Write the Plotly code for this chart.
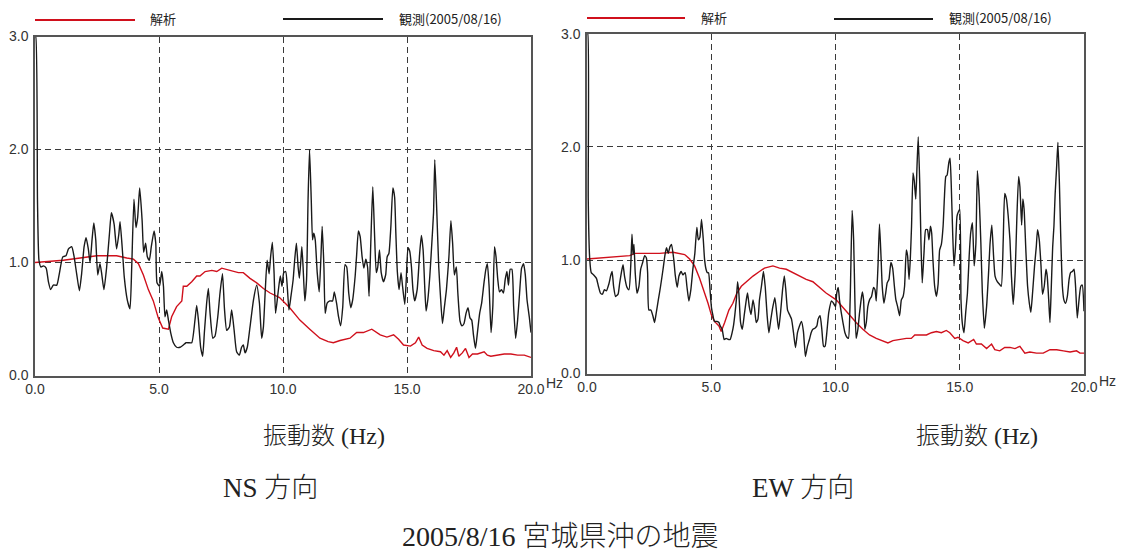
import plotly.graph_objects as go

# ---------------- data (Hz, amplification) ----------------
ns_obs_hz = [0.0, 0.03, 0.10, 0.16, 0.24, 0.34, 0.45, 0.54, 0.63, 0.74, 0.88, 0.98, 1.12, 1.25, 1.35, 1.48, 1.57, 1.68, 1.79, 1.88,
             1.98, 2.06, 2.15, 2.22, 2.30, 2.37, 2.45, 2.53, 2.62, 2.69, 2.78, 2.89, 3.00, 3.08, 3.19, 3.29, 3.38, 3.43, 3.52, 3.60,
             3.72, 3.83, 3.90, 3.99, 4.07, 4.14, 4.22, 4.32, 4.38, 4.46, 4.53, 4.61, 4.69, 4.80, 4.87, 4.92, 5.02, 5.11, 5.18, 5.24,
             5.31, 5.38, 5.47, 5.58, 5.71, 5.85, 5.98, 6.09, 6.18, 6.32, 6.45, 6.52, 6.59, 6.68, 6.76, 6.83, 6.92, 6.99, 7.06, 7.17,
             7.26, 7.37, 7.46, 7.56, 7.64, 7.73, 7.84, 7.93, 8.03, 8.13, 8.24, 8.33, 8.40, 8.47, 8.56, 8.67, 8.81, 8.94, 9.05, 9.14,
             9.21, 9.28, 9.36, 9.44, 9.50, 9.57, 9.64, 9.70, 9.80, 9.89, 9.96, 10.03, 10.11, 10.18, 10.24, 10.32, 10.41, 10.47, 10.54, 10.61,
             10.66, 10.72, 10.76, 10.81, 10.88, 10.95, 11.01, 11.07, 11.14, 11.19, 11.24, 11.30, 11.38, 11.46, 11.53, 11.58, 11.65, 11.70, 11.78, 11.89,
             12.00, 12.07, 12.16, 12.24, 12.32, 12.41, 12.50, 12.57, 12.65, 12.73, 12.81, 12.91, 12.97, 13.04, 13.11, 13.19, 13.26, 13.34, 13.41, 13.47,
             13.54, 13.62, 13.69, 13.76, 13.82, 13.89, 13.96, 14.05, 14.14, 14.20, 14.27, 14.35, 14.43, 14.50, 14.55, 14.61, 14.68, 14.76, 14.82, 14.91,
             14.97, 15.04, 15.11, 15.18, 15.24, 15.31, 15.41, 15.51, 15.58, 15.65, 15.72, 15.77, 15.84, 15.92, 15.99, 16.07, 16.12, 16.20, 16.28, 16.35,
             16.43, 16.51, 16.59, 16.69, 16.77, 16.84, 16.91, 16.99, 17.05, 17.14, 17.22, 17.30, 17.38, 17.46, 17.54, 17.61, 17.68, 17.76, 17.84, 17.93,
             18.01, 18.11, 18.18, 18.24, 18.31, 18.39, 18.46, 18.53, 18.59, 18.66, 18.73, 18.81, 18.89, 18.96, 19.03, 19.09, 19.16, 19.23, 19.30, 19.38,
             19.46, 19.54, 19.62, 19.70, 19.77, 19.84, 19.93, 20.0]
ns_obs_val = [3.0, 3.0, 1.55, 1.02, 0.96, 0.97, 0.95, 0.83, 0.76, 0.80, 0.80, 0.90, 1.05, 1.06, 1.12, 1.14, 1.06, 0.90, 0.75, 0.90,
              1.14, 1.22, 1.12, 1.00, 1.20, 1.35, 1.20, 0.89, 0.99, 0.90, 0.76, 0.96, 1.25, 1.44, 1.34, 1.12, 1.25, 1.36, 1.12, 0.87,
              0.67, 0.59, 0.96, 1.56, 1.31, 1.40, 1.66, 1.37, 1.09, 1.17, 1.05, 1.02, 1.14, 1.28, 1.17, 0.82, 0.79, 0.92, 0.79, 0.52,
              0.58, 0.49, 0.38, 0.29, 0.25, 0.25, 0.27, 0.29, 0.29, 0.29, 0.49, 0.62, 0.49, 0.25, 0.17, 0.38, 0.64, 0.77, 0.55, 0.33,
              0.35, 0.52, 0.73, 0.90, 0.59, 0.40, 0.43, 0.58, 0.40, 0.21, 0.18, 0.25, 0.27, 0.20, 0.25, 0.43, 0.67, 0.80, 0.64, 0.33,
              0.43, 0.73, 1.02, 0.90, 1.05, 1.18, 0.91, 0.55, 0.73, 0.88, 0.79, 0.91, 0.92, 0.76, 0.58, 0.70, 0.85, 1.02, 1.17, 0.96,
              0.86, 1.02, 1.14, 0.96, 0.66, 0.85, 1.55, 2.00, 1.55, 1.20, 1.26, 1.20, 0.91, 0.74, 1.05, 1.32, 0.96, 0.55, 0.64, 0.66,
              0.66, 0.74, 0.64, 0.52, 0.44, 0.61, 0.98, 0.96, 0.73, 0.60, 0.67, 0.88, 1.07, 1.28, 1.23, 1.05, 0.95, 1.03, 0.96, 0.70,
              1.17, 1.67, 1.26, 0.91, 0.96, 1.11, 0.91, 0.83, 0.89, 1.05, 1.08, 1.32, 1.66, 1.58, 1.26, 0.92, 0.76, 0.91, 0.79, 0.63,
              0.85, 1.13, 1.10, 0.96, 0.76, 0.66, 0.76, 1.08, 1.24, 1.11, 0.76, 0.57, 0.67, 0.88, 1.13, 1.44, 1.91, 1.46, 0.96, 0.70,
              0.46, 0.61, 0.76, 1.05, 1.37, 1.17, 0.89, 0.96, 0.73, 0.48, 0.44, 0.46, 0.55, 0.60, 0.51, 0.49, 0.36, 0.24, 0.38, 0.55,
              0.64, 0.83, 0.94, 0.99, 0.79, 0.38, 0.61, 1.14, 1.05, 0.85, 0.74, 0.76, 0.73, 0.85, 0.92, 0.80, 0.94, 0.94, 0.61, 0.33,
              0.49, 0.73, 0.95, 0.99, 0.89, 0.67, 0.52, 0.38]

ns_ana_hz = [0.0, 0.61, 1.14, 1.82, 2.49, 2.89, 3.29, 3.70, 3.97, 4.17, 4.37, 4.57, 4.77, 4.97, 5.15, 5.38, 5.51, 5.71, 5.92, 5.98,
             6.12, 6.32, 6.52, 6.65, 6.86, 7.13, 7.33, 7.53, 7.73, 8.00, 8.20, 8.40, 8.67, 8.94, 9.21, 9.48, 9.86, 10.27, 10.68, 11.08,
             11.49, 11.82, 12.03, 12.30, 12.70, 12.97, 13.24, 13.58, 13.92, 14.19, 14.46, 14.66, 14.86, 15.14, 15.34, 15.47, 15.61, 15.81, 16.08, 16.35,
             16.49, 16.62, 16.76, 16.89, 17.00, 17.09, 17.23, 17.36, 17.50, 17.64, 17.84, 18.11, 18.24, 18.38, 18.65, 18.92, 19.19, 19.46, 19.73, 20.0]
ns_ana_val = [1.00, 1.01, 1.02, 1.04, 1.06, 1.06, 1.06, 1.04, 1.03, 0.99, 0.89, 0.76, 0.66, 0.51, 0.42, 0.41, 0.52, 0.61, 0.66, 0.79,
              0.79, 0.83, 0.88, 0.88, 0.92, 0.93, 0.92, 0.95, 0.94, 0.92, 0.91, 0.91, 0.86, 0.82, 0.77, 0.73, 0.69, 0.60, 0.49, 0.41,
              0.33, 0.30, 0.29, 0.31, 0.33, 0.38, 0.38, 0.41, 0.36, 0.34, 0.36, 0.32, 0.27, 0.26, 0.29, 0.34, 0.27, 0.24, 0.22, 0.21,
              0.18, 0.22, 0.16, 0.20, 0.25, 0.17, 0.20, 0.24, 0.16, 0.19, 0.19, 0.21, 0.18, 0.17, 0.18, 0.19, 0.19, 0.18, 0.18, 0.16]

ew_obs_hz = [0.0, 0.03, 0.05, 0.11, 0.17, 0.27, 0.38, 0.46, 0.54, 0.62, 0.70, 0.78, 0.88, 0.95, 1.01, 1.07, 1.15, 1.25, 1.31, 1.39,
             1.45, 1.51, 1.61, 1.69, 1.76, 1.81, 1.85, 1.89, 1.94, 2.01, 2.09, 2.16, 2.24, 2.32, 2.39, 2.44, 2.49, 2.57, 2.65, 2.72,
             2.79, 2.87, 2.96, 3.06, 3.14, 3.20, 3.27, 3.34, 3.40, 3.49, 3.55, 3.63, 3.70, 3.79, 3.86, 3.95, 4.02, 4.10, 4.18, 4.26,
             4.34, 4.42, 4.48, 4.54, 4.61, 4.68, 4.73, 4.79, 4.84, 4.89, 4.96, 5.01, 5.07, 5.13, 5.23, 5.31, 5.36, 5.44, 5.52, 5.60,
             5.70, 5.76, 5.84, 5.90, 5.95, 6.01, 6.06, 6.11, 6.18, 6.25, 6.33, 6.41, 6.46, 6.53, 6.60, 6.68, 6.74, 6.81, 6.88, 6.94,
             7.02, 7.10, 7.17, 7.25, 7.32, 7.40, 7.48, 7.56, 7.63, 7.71, 7.79, 7.87, 7.94, 8.00, 8.07, 8.15, 8.23, 8.31, 8.39, 8.47,
             8.55, 8.63, 8.71, 8.79, 8.87, 8.95, 9.02, 9.09, 9.17, 9.25, 9.30, 9.38, 9.45, 9.52, 9.58, 9.65, 9.73, 9.84, 9.92, 10.00,
             10.05, 10.11, 10.16, 10.23, 10.30, 10.38, 10.46, 10.52, 10.59, 10.67, 10.73, 10.78, 10.83, 10.90, 10.97, 11.03, 11.08, 11.13, 11.18, 11.24,
             11.30, 11.37, 11.45, 11.53, 11.59, 11.64, 11.71, 11.77, 11.83, 11.88, 11.95, 12.02, 12.08, 12.15, 12.23, 12.30, 12.37, 12.43, 12.50, 12.58,
             12.65, 12.72, 12.78, 12.85, 12.90, 12.96, 13.01, 13.06, 13.12, 13.17, 13.23, 13.28, 13.33, 13.39, 13.44, 13.49, 13.56, 13.63, 13.70, 13.76,
             13.82, 13.87, 13.92, 13.99, 14.06, 14.13, 14.19, 14.26, 14.33, 14.38, 14.44, 14.49, 14.56, 14.61, 14.66, 14.72, 14.77, 14.83, 14.89, 14.95,
             15.00, 15.05, 15.11, 15.17, 15.24, 15.31, 15.38, 15.44, 15.51, 15.58, 15.65, 15.71, 15.78, 15.85, 15.91, 15.99, 16.08, 16.16, 16.22, 16.29,
             16.36, 16.42, 16.51, 16.59, 16.67, 16.75, 16.81, 16.88, 16.95, 17.02, 17.08, 17.15, 17.23, 17.30, 17.37, 17.42, 17.49, 17.54, 17.59, 17.66,
             17.73, 17.80, 17.86, 17.93, 18.01, 18.08, 18.13, 18.20, 18.27, 18.33, 18.40, 18.47, 18.52, 18.58, 18.63, 18.68, 18.74, 18.79, 18.84, 18.90,
             18.95, 19.01, 19.06, 19.13, 19.19, 19.26, 19.33, 19.40, 19.46, 19.53, 19.60, 19.66, 19.73, 19.80, 19.87, 19.93, 20.0]
ew_obs_val = [3.0, 3.0, 1.54, 1.01, 0.89, 0.87, 0.84, 0.77, 0.71, 0.70, 0.74, 0.73, 0.79, 0.86, 0.90, 0.77, 0.68, 0.70, 0.79, 0.90,
              0.96, 0.86, 0.76, 0.74, 0.95, 1.23, 1.05, 1.14, 0.89, 0.71, 0.77, 0.92, 0.98, 1.04, 1.02, 0.89, 0.56, 0.56, 0.51, 0.45,
              0.54, 0.65, 0.77, 0.92, 1.05, 1.11, 1.06, 1.12, 1.14, 1.01, 0.87, 0.76, 0.86, 0.90, 0.87, 0.89, 0.77, 0.64, 0.74, 0.92,
              1.06, 1.29, 1.18, 1.20, 1.36, 1.18, 1.01, 0.92, 0.89, 0.89, 0.71, 0.58, 0.51, 0.46, 0.46, 0.45, 0.42, 0.39, 0.30, 0.31,
              0.30, 0.30, 0.36, 0.43, 0.52, 0.65, 0.81, 0.71, 0.45, 0.39, 0.52, 0.65, 0.71, 0.59, 0.52, 0.65, 0.58, 0.45, 0.48, 0.65,
              0.77, 0.90, 0.77, 0.51, 0.36, 0.48, 0.59, 0.67, 0.54, 0.39, 0.54, 0.74, 0.86, 0.74, 0.56, 0.52, 0.48, 0.36, 0.23, 0.36,
              0.42, 0.46, 0.37, 0.15, 0.24, 0.30, 0.36, 0.39, 0.40, 0.42, 0.48, 0.51, 0.39, 0.24, 0.24, 0.36, 0.54, 0.64, 0.62, 0.59,
              0.71, 0.76, 0.65, 0.54, 0.45, 0.36, 0.32, 0.31, 0.65, 1.44, 1.18, 0.65, 0.31, 0.39, 0.54, 0.65, 0.72, 0.65, 0.39, 0.45,
              0.59, 0.65, 0.68, 0.76, 0.74, 0.64, 0.95, 1.32, 1.04, 0.77, 0.62, 0.71, 0.80, 0.83, 0.98, 0.93, 0.77, 0.65, 0.59, 0.51,
              0.65, 0.68, 0.77, 1.09, 1.04, 0.83, 1.01, 1.30, 1.77, 1.70, 1.54, 1.83, 2.09, 1.68, 1.15, 0.80, 1.06, 1.27, 1.27, 1.18,
              1.30, 1.24, 1.01, 0.77, 0.68, 0.79, 1.09, 1.14, 1.30, 1.54, 1.74, 1.75, 1.86, 1.90, 1.65, 1.21, 0.95, 1.12, 1.39, 1.43,
              1.45, 0.65, 0.43, 0.36, 0.54, 0.71, 1.04, 1.24, 1.33, 0.95, 1.15, 1.79, 1.56, 1.15, 0.71, 0.40, 0.59, 0.89, 1.15, 1.31,
              1.04, 0.86, 0.81, 0.79, 0.77, 1.18, 1.59, 1.54, 1.39, 1.18, 0.86, 0.61, 0.89, 1.39, 1.74, 1.65, 1.31, 1.54, 1.45, 1.09,
              0.77, 0.62, 0.54, 0.71, 0.95, 1.12, 1.27, 1.18, 0.95, 0.70, 0.77, 0.92, 0.86, 0.65, 0.45, 0.74, 1.12, 1.30, 1.59, 1.83,
              2.04, 1.68, 1.24, 0.77, 0.65, 0.62, 0.68, 0.83, 0.89, 0.90, 0.92, 0.77, 0.49, 0.65, 0.77, 0.78, 0.55]

ew_ana_hz = [0.0, 0.51, 1.05, 1.72, 1.92, 2.39, 2.92, 3.46, 3.73, 3.93, 4.13, 4.33, 4.53, 4.69, 4.87, 5.00, 5.13, 5.31, 5.40, 5.54,
             5.71, 5.87, 6.03, 6.21, 6.41, 6.68, 6.94, 7.14, 7.48, 7.75, 8.02, 8.28, 8.55, 8.82, 9.09, 9.36, 9.62, 10.03, 10.30, 10.56,
             10.83, 11.10, 11.37, 11.64, 11.91, 12.11, 12.31, 12.58, 12.85, 13.05, 13.19, 13.39, 13.66, 13.86, 14.06, 14.26, 14.46, 14.60, 14.80, 14.93,
             15.13, 15.34, 15.56, 15.67, 15.87, 16.08, 16.28, 16.41, 16.61, 16.81, 17.02, 17.22, 17.42, 17.62, 17.82, 18.09, 18.36, 18.63, 18.90, 19.17,
             19.44, 19.70, 19.84, 20.0]
ew_ana_val = [1.01, 1.02, 1.03, 1.04, 1.06, 1.06, 1.06, 1.07, 1.06, 1.05, 1.01, 0.95, 0.84, 0.74, 0.62, 0.52, 0.46, 0.42, 0.37, 0.45,
              0.56, 0.62, 0.71, 0.77, 0.81, 0.86, 0.90, 0.93, 0.95, 0.93, 0.92, 0.89, 0.86, 0.83, 0.81, 0.76, 0.71, 0.65, 0.58, 0.51,
              0.45, 0.39, 0.34, 0.31, 0.29, 0.27, 0.29, 0.30, 0.31, 0.31, 0.34, 0.34, 0.34, 0.36, 0.37, 0.36, 0.38, 0.36, 0.31, 0.32,
              0.29, 0.27, 0.30, 0.26, 0.26, 0.22, 0.26, 0.21, 0.20, 0.23, 0.23, 0.22, 0.24, 0.18, 0.19, 0.18, 0.18, 0.21, 0.21, 0.20,
              0.19, 0.20, 0.18, 0.18]

x_ticks = [0, 5, 10, 15, 20]
x_ticktext = ["0.0", "5.0", "10.0", "15.0", "20.0"]
y_ticks = [0, 1, 2, 3]
y_ticktext = ["0.0", "1.0", "2.0", "3.0"]

legend_ana = "解析"
legend_obs = "観測(2005/08/16)"
xlabel = "振動数 (Hz)"
sub_ns = "NS 方向"
sub_ew = "EW 方向"
title = "2005/8/16 宮城県沖の地震"

# ---------------- figure ----------------
# The page body has an 8px margin, so the figure is offset by 8px on screen.
OFF = 8
W, H = 1127 - 2 * OFF, 559 - 2 * OFF
RED = "#d0101c"
BLK = "#1a1a1a"

def px(x):
    return (x - OFF) / W

def py(y):
    return 1 - (y - OFF) / H

fig = go.Figure()
fig.add_trace(go.Scatter(x=ns_ana_hz, y=ns_ana_val, mode="lines", line=dict(color=RED, width=1.4),
                         xaxis="x", yaxis="y", showlegend=False))
fig.add_trace(go.Scatter(x=ns_obs_hz, y=ns_obs_val, mode="lines", line=dict(color=BLK, width=1.4, shape="spline", smoothing=0.5),
                         xaxis="x", yaxis="y", showlegend=False))
fig.add_trace(go.Scatter(x=ew_ana_hz, y=ew_ana_val, mode="lines", line=dict(color=RED, width=1.4),
                         xaxis="x2", yaxis="y2", showlegend=False))
fig.add_trace(go.Scatter(x=ew_obs_hz, y=ew_obs_val, mode="lines", line=dict(color=BLK, width=1.4, shape="spline", smoothing=0.5),
                         xaxis="x2", yaxis="y2", showlegend=False))

tickfont = dict(family="Liberation Sans, Arial, sans-serif", size=14, color="#333333")
axis_common = dict(showline=True, mirror=True, linecolor="#555555", linewidth=1.5,
                   showgrid=True, gridcolor="#3a3a3a", gridwidth=1, griddash="6px,4px",
                   zeroline=False, ticks="", tickfont=tickfont, fixedrange=True, automargin=False)

fig.update_layout(
    width=W, height=H, margin=dict(l=0, r=0, t=0, b=0, autoexpand=False),
    paper_bgcolor="white", plot_bgcolor="white",
    xaxis=dict(domain=[px(35), px(531)], range=[0, 20], tickvals=x_ticks, ticktext=x_ticktext,
               anchor="y", ticklabelstandoff=0, **axis_common),
    yaxis=dict(domain=[py(375.5), py(36.5)], range=[0, 3], tickvals=y_ticks, ticktext=y_ticktext,
               anchor="x", ticklabelstandoff=2, **axis_common),
    xaxis2=dict(domain=[px(587), px(1084)], range=[0, 20], tickvals=x_ticks, ticktext=x_ticktext,
                anchor="y2", ticklabelstandoff=0, **axis_common),
    yaxis2=dict(domain=[py(373.5), py(33.6)], range=[0, 3], tickvals=y_ticks, ticktext=y_ticktext,
                anchor="x2", ticklabelstandoff=2, **axis_common),
)

# legend lines (layout decoration)
legend_font = dict(family="Noto Sans CJK JP, sans-serif", size=13, color="#222222")
for (x0, x1, y, col) in [(35, 135, 20, RED), (283, 383, 19, BLK), (587, 685, 18, RED), (834, 933, 19, BLK)]:
    fig.add_shape(type="line", xref="paper", yref="paper", x0=px(x0), x1=px(x1), y0=py(y), y1=py(y),
                  line=dict(color=col, width=2))

annos = [
    (148, 19, legend_ana, legend_font, "left"),
    (397, 19, legend_obs, legend_font, "left"),
    (699, 18, legend_ana, legend_font, "left"),
    (947, 18, legend_obs, legend_font, "left"),
]
serif = "Liberation Serif, Noto Sans CJK JP, serif"
for (x, y, t, f, anc) in annos:
    fig.add_annotation(x=px(x), y=py(y), xref="paper", yref="paper", text=t, showarrow=False,
                       xanchor=anc, yanchor="middle", font=f)

# "Hz" unit after 20.0
for xh, yh in [(544, 383), (1097, 381)]:
    fig.add_annotation(x=px(xh), y=py(yh), xref="paper", yref="paper", text="Hz", showarrow=False,
                       xanchor="left", yanchor="middle", font=tickfont)

big = [
    (324, 436, xlabel, 24),
    (977, 436, xlabel, 24),
    (270, 488, sub_ns, 27),
    (803, 488, sub_ew, 27),
    (560, 536, title, 28),
]
for (x, y, t, s) in big:
    fig.add_annotation(x=px(x), y=py(y), xref="paper", yref="paper", text=t, showarrow=False,
                       xanchor="center", yanchor="middle",
                       font=dict(family=serif, size=s, color="#222222", weight=300))

fig.write_html("out.html")
